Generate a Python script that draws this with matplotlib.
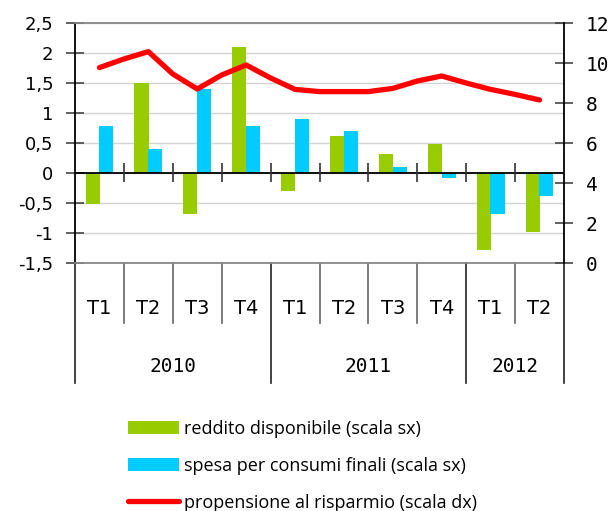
import numpy as np
import matplotlib
matplotlib.use('Agg')
import matplotlib.pyplot as plt
from matplotlib.patches import Patch
from matplotlib.lines import Line2D
import matplotlib.transforms as mtransforms

# quarterly data
quarters = ['T1', 'T2', 'T3', 'T4', 'T1', 'T2', 'T3', 'T4', 'T1', 'T2']
years = ['2010', '2011', '2012']
quarters_per_year = [4, 4, 2]
reddito = [-0.52, 1.5, -0.68, 2.1, -0.3, 0.62, 0.32, 0.48, -1.28, -0.98]
spesa = [0.78, 0.4, 1.4, 0.78, 0.9, 0.7, 0.1, -0.08, -0.68, -0.38]
# savings ratio read at every half quarter (right scale)
risparmio = [9.77, 10.2, 10.57, 9.45, 8.7, 9.4, 9.9, 9.25, 8.68, 8.57,
             8.57, 8.57, 8.73, 9.1, 9.35, 9.0, 8.68, 8.43, 8.15]

labels = ['reddito disponibile (scala sx)',
          'spesa per consumi finali (scala sx)',
          'propensione al risparmio (scala dx)']
colors = ['#99cc00', '#00ccff', '#ff0000']

W, H = 616, 511
fig = plt.figure(figsize=(W / 100, H / 100), dpi=100)
ax = fig.add_axes([75 / W, 1 - 263 / H, 489 / W, 240 / H])

x = np.arange(len(quarters))
bw = 0.29
ax.bar(x - 0.14, reddito, bw, color=colors[0], zorder=2)
ax.bar(x + 0.14, spesa, bw, color=colors[1], zorder=2)

ax.set_xlim(-0.5, len(quarters) - 0.5)
ax.set_ylim(-1.5, 2.5)
yt = np.arange(-1.5, 2.51, 0.5)
ax.set_yticks(yt)
ax.set_yticklabels(['{:g}'.format(v).replace('.', ',') for v in yt],
                   fontsize=13, family='DejaVu Sans')
ax.set_xticks([])
ax.grid(axis='y', color='#d4d4d4', lw=1)
ax.set_axisbelow(True)
ax.tick_params(axis='y', direction='inout', length=13, width=1.2,
               color='#444444', pad=9)
ax.axhline(0, color='black', lw=1.3, zorder=3)

# small ticks on zero line between quarters
ax.vlines(x[:-1] + 0.5, -0.15, 0.17, color='#333333', lw=1.2, zorder=3)

for side in ['top', 'bottom']:
    ax.spines[side].set_color('#888888')
    ax.spines[side].set_linewidth(1.3)
ax.spines['left'].set_linewidth(1.3)
ax.spines['right'].set_visible(False)

ax2 = ax.twinx()
xl = np.arange(len(risparmio)) / 2
ax2.plot(xl, risparmio, color=colors[2], lw=3.8, solid_capstyle='round',
         solid_joinstyle='round', zorder=4)
ax2.set_ylim(0, 12)
ax2.set_yticks(np.arange(0, 13, 2))
ax2.set_yticklabels([str(v) for v in range(0, 13, 2)],
                    fontsize=14, family='DejaVu Sans Mono')
ax2.tick_params(axis='y', direction='inout', length=13, width=1.2,
                color='#444444', pad=9)
for side in ['top', 'bottom', 'left']:
    ax2.spines[side].set_visible(False)
ax2.spines['right'].set_linewidth(1.3)

# category axis below the plot
trans = mtransforms.blended_transform_factory(ax.transData, ax.transAxes)
for i, q in enumerate(quarters):
    ax.text(i, -0.19, q, transform=trans, ha='center', va='center',
            fontsize=14, family='DejaVu Sans')
bounds = np.cumsum([0] + quarters_per_year) - 0.5
for b in x[:-1] + 0.5:
    if b not in bounds:
        ax.add_line(Line2D([b, b], [0, -0.25], transform=trans, color='#666666',
                           lw=1.2, clip_on=False))
for b in bounds:
    ax.add_line(Line2D([b, b], [0, -0.5], transform=trans, color='#222222',
                       lw=1.2, clip_on=False))
for j, yr in enumerate(years):
    ax.text((bounds[j] + bounds[j + 1]) / 2, -0.43, yr, transform=trans,
            ha='center', va='center', fontsize=14, family='DejaVu Sans Mono')

handles = [Patch(facecolor=colors[0]), Patch(facecolor=colors[1]),
           Line2D([], [], color=colors[2], lw=3.8, solid_capstyle='round')]
fig.legend(handles, labels, loc='upper left', bbox_to_anchor=(128 / W, 1 - 420 / H),
           frameon=False, prop={'family': 'Open Sans', 'size': 13},
           handlelength=2.8, handleheight=0.75, handletextpad=0.3,
           labelspacing=1.05, borderpad=0, borderaxespad=0)

fig.savefig('out.png', dpi=100)
